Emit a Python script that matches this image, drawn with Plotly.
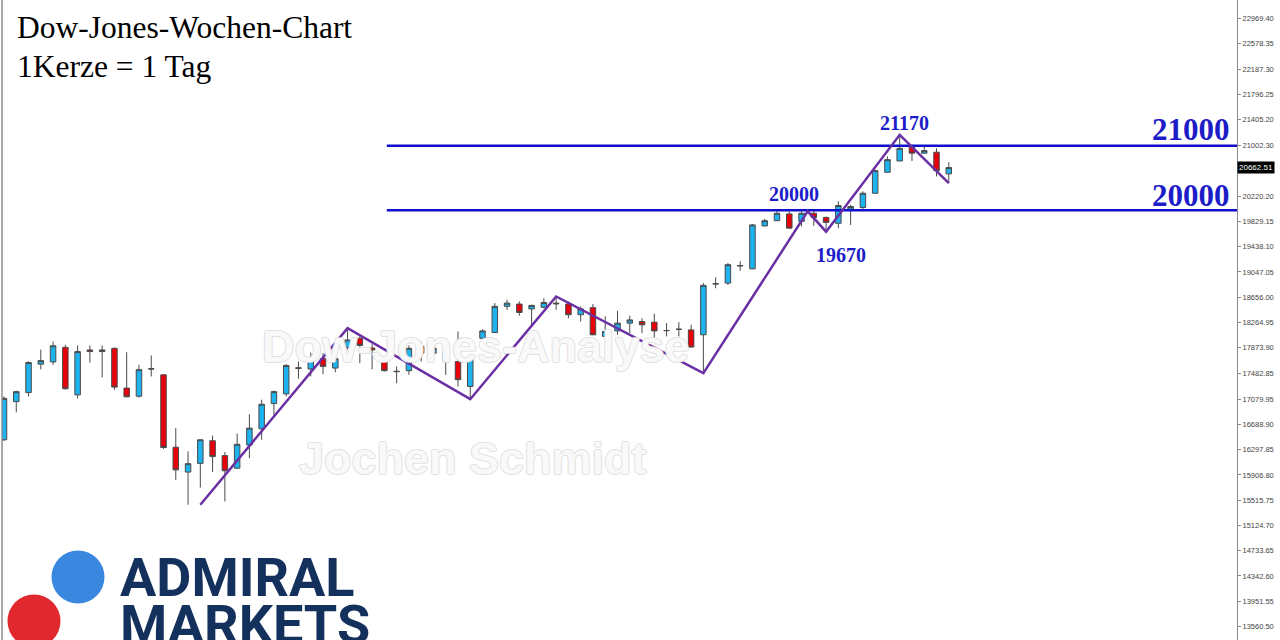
import plotly.graph_objects as go

# ---------------- data ----------------
opens = [16450, 17040, 17180, 17620, 17655, 17880, 17145, 17840, 17815, 17865,
         17250, 17125, 17550, 17455, 16335, 15950, 16085, 16435, 16205, 16010,
         16370, 16620, 17010, 17160, 17565, 17545, 17705, 17560, 17880, 18020,
         17870, 17660, 17510, 17520, 17895, 17790, 17815, 17660, 17275, 18020,
         18110, 18515, 18550, 18475, 18500, 18565, 18550, 18385, 18495, 18050,
         18135, 18255, 18280, 18270, 18140, 18160, 18150, 18075, 18860, 18875,
         19140, 19095, 19760, 19840, 19945, 19830, 19955, 19890, 19800, 20020,
         20045, 20265, 20590, 20765, 20990, 20885, 20900, 20565]
highs = [17120, 17210, 17665, 17845, 17970, 17920, 17910, 17910, 17910, 17880,
         17805, 17610, 17755, 17465, 16630, 16270, 16455, 16515, 16260, 16545,
         16845, 17070, 17210, 17620, 17660, 17800, 17790, 17810, 18175, 18050,
         17930, 17690, 17585, 17910, 17970, 17925, 17925, 18125, 17740, 18160,
         18565, 18615, 18590, 18540, 18640, 18667, 18590, 18515, 18550, 18360,
         18445, 18370, 18330, 18400, 18255, 18270, 18230, 18875, 18965, 19185,
         19210, 19790, 19870, 19995, 19985, 19985, 19995, 19905, 20140, 20085,
         20295, 20630, 20835, 21170, 21015, 21005, 20960, 20745]
lows = [16430, 16875, 17120, 17540, 17610, 17225, 17090, 17645, 17415, 17225,
        17110, 17100, 17430, 16310, 15830, 15445, 15710, 15950, 15495, 16000,
        16165, 16450, 16835, 17120, 17395, 17430, 17465, 17495, 17845, 17635,
        17540, 17505, 17325, 17455, 17660, 17770, 17455, 17275, 17085, 18015,
        18105, 18460, 18370, 18230, 18485, 18460, 18330, 18280, 18070, 18045,
        18075, 18100, 18100, 17995, 18050, 18050, 17875, 17480, 18795, 18845,
        19065, 19090, 19750, 19835, 19720, 19750, 19760, 19670, 19725, 19775,
        19985, 20260, 20585, 20760, 20765, 20880, 20525, 20420]
closes = [17090, 17195, 17645, 17675, 17905, 17240, 17815, 17815, 17840, 17265,
          17115, 17535, 17545, 16330, 15985, 16080, 16450, 16190, 15970, 16380,
          16630, 17000, 17195, 17600, 17555, 17690, 17585, 17705, 17995, 17910,
          17840, 17520, 17505, 17865, 17790, 17865, 17660, 17380, 17715, 18135,
          18515, 18565, 18420, 18530, 18575, 18555, 18385, 18475, 18075, 18125,
          18255, 18305, 18230, 18135, 18140, 18160, 17885, 18840, 18865, 19160,
          19145, 19775, 19840, 19955, 19725, 19955, 19890, 19815, 20075, 20060,
          20265, 20615, 20785, 20960, 20885, 20925, 20615, 20662.51]
candle_index = list(range(len(opens)))

# zigzag swing points (candle index, price)
zz_x = [16, 28, 38, 45, 57, 65.5, 67, 73, 77]
zz_y = [15444, 18177, 17078, 18667, 17480, 19985, 19670, 21170, 20420]

# horizontal levels
levels = [21000, 20000]
level_labels = ["21000", "20000"]
level_start = 31.2

# price axis labels
y_ticks = [22969.40, 22578.35, 22187.30, 21796.25, 21405.20, 21002.30,
           20220.20, 19829.15, 19438.10, 19047.05, 18656.00, 18264.95,
           17873.90, 17482.85, 17079.95, 16688.90, 16297.85, 15906.80,
           15515.75, 15124.70, 14733.65, 14342.60, 13951.55, 13560.50]
y_tick_text = ["%.2f" % v for v in y_ticks]
last_price = 20662.51

# ---------------- layout helpers ----------------
W, H = 1280, 640
ML, MR = 2, 43
PW = W - ML - MR
X_MIN, X_MAX = -0.163, 100.49
Y_MIN, Y_MAX = 13351.5, 23255.5


def px(xp):
    return (xp - ML) / PW


def py(yp):
    return 1 - yp / H


fig = go.Figure()

fig.add_trace(go.Candlestick(
    x=candle_index, open=opens, high=highs, low=lows, close=closes,
    increasing=dict(fillcolor="#1DB3EE", line=dict(color="#4a4a4a", width=1)),
    decreasing=dict(fillcolor="#E8000B", line=dict(color="#4a4a4a", width=1)),
    whiskerwidth=0, showlegend=False, hoverinfo="skip"))

for lv in levels:
    fig.add_trace(go.Scatter(x=[level_start, X_MAX], y=[lv, lv], mode="lines",
                             line=dict(color="#1010CC", width=2.5),
                             showlegend=False, hoverinfo="skip"))

fig.add_trace(go.Scatter(x=zz_x, y=zz_y, mode="lines",
                         line=dict(color="#6A2FA3", width=2.5),
                         showlegend=False, hoverinfo="skip"))

blue_txt = "#1C1CC8"
wm_shadow = "1px 0 0 #dcdcdc, -1px 0 0 #dcdcdc, 0 1px 0 #dcdcdc, 0 -1px 0 #dcdcdc"
annotations = [
    dict(text="Dow-Jones-Wochen-Chart", x=px(15), y=py(28), xanchor="left", yanchor="middle",
         font=dict(family="Liberation Serif", size=31.5, color="black")),
    dict(text="1Kerze = 1 Tag", x=px(15), y=py(66), xanchor="left", yanchor="middle",
         font=dict(family="Liberation Serif", size=31.5, color="black")),
    dict(text="<b>21000</b>", x=px(1232), y=py(129), xanchor="right", yanchor="middle",
         font=dict(family="Liberation Serif", size=31, color=blue_txt)),
    dict(text="<b>20000</b>", x=px(1232), y=py(195), xanchor="right", yanchor="middle",
         font=dict(family="Liberation Serif", size=31, color=blue_txt)),
    dict(text="<b>21170</b>", x=px(905), y=py(123), xanchor="center", yanchor="middle",
         font=dict(family="Liberation Serif", size=20, color=blue_txt)),
    dict(text="<b>20000</b>", x=px(794), y=py(194), xanchor="center", yanchor="middle",
         font=dict(family="Liberation Serif", size=20, color=blue_txt)),
    dict(text="<b>19670</b>", x=px(841), y=py(255), xanchor="center", yanchor="middle",
         font=dict(family="Liberation Serif", size=20, color=blue_txt)),
    dict(text="<b>Dow-Jones-Analyse</b>", x=px(476), y=py(346), xanchor="center", yanchor="middle",
         font=dict(family="Liberation Sans", size=45, color="rgba(255,255,255,0.85)",
                   shadow=wm_shadow)),
    dict(text="<b>Jochen Schmidt</b>", x=px(473), y=py(458), xanchor="center", yanchor="middle",
         font=dict(family="Liberation Sans", size=45, color="rgba(255,255,255,0.85)",
                   shadow=wm_shadow)),
    dict(text="<b>ADMIRAL</b>", x=px(118), y=py(577), xanchor="left", yanchor="middle",
         font=dict(family="Roboto", size=54, color="#14305C", weight=900)),
    dict(text="<b>MARKETS</b>", x=px(118), y=py(624), xanchor="left", yanchor="middle",
         font=dict(family="Roboto", size=54, color="#14305C", weight=900)),
    dict(text="%.2f" % last_price, x=1.0, y=(last_price - Y_MIN) / (Y_MAX - Y_MIN),
         xref="paper", yref="paper", xanchor="left", yanchor="middle",
         bgcolor="black", borderpad=1,
         font=dict(family="Liberation Sans", size=8, color="white")),
]
for a in annotations:
    a.setdefault("xref", "paper")
    a.setdefault("yref", "paper")
    a["showarrow"] = False

shapes = [
    dict(type="line", xref="paper", yref="paper", x0=0, x1=0, y0=0, y1=1,
         line=dict(color="#8C8C8C", width=1.5)),
    dict(type="circle", xref="paper", yref="paper", xsizemode="pixel", ysizemode="pixel",
         xanchor=px(78), yanchor=py(577), x0=-26.5, x1=26.5, y0=-26.5, y1=26.5,
         fillcolor="#3A87E0", line=dict(width=0)),
    dict(type="circle", xref="paper", yref="paper", xsizemode="pixel", ysizemode="pixel",
         xanchor=px(34), yanchor=py(621), x0=-26.5, x1=26.5, y0=-26.5, y1=26.5,
         fillcolor="#E0282E", line=dict(width=0)),
]

fig.update_layout(
    width=W, height=H,
    margin=dict(l=ML, r=MR, t=0, b=0),
    paper_bgcolor="white", plot_bgcolor="white",
    showlegend=False,
    boxgap=0.36,
    xaxis=dict(range=[X_MIN, X_MAX], visible=False, rangeslider=dict(visible=False),
               fixedrange=True),
    yaxis=dict(range=[Y_MIN, Y_MAX], side="right", tickvals=y_ticks, ticktext=y_tick_text,
               ticks="outside", ticklen=3, tickcolor="#8C8C8C", showline=True,
               linecolor="#8C8C8C", linewidth=1, showgrid=False, zeroline=False,
               tickfont=dict(family="Liberation Sans", size=7.5, color="#444444"),
               automargin=False, fixedrange=True),
    annotations=annotations,
    shapes=shapes,
)

fig.write_html("out.html", config={"displayModeBar": False},
               post_script="document.body.style.margin='0';document.body.style.overflow='hidden';")
